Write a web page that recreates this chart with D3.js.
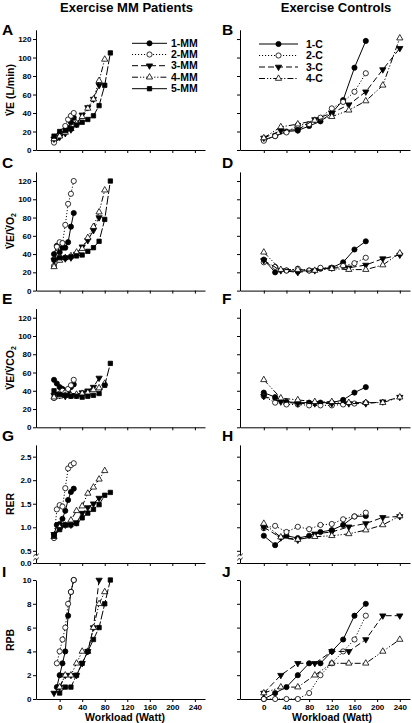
<!DOCTYPE html>
<html><head><meta charset="utf-8">
<script src="https://cdn.jsdelivr.net/npm/d3@7"></script>
<style>
body{margin:0;background:#fff;}
svg{display:block;}
text{font-family:Arial,"Liberation Sans",sans-serif;font-weight:bold;fill:#000;}
</style>
</head><body>
<svg id="chart" width="412" height="723"></svg>
<script>
// ---------------- DATA ----------------
const columnTitles = ["Exercise MM Patients", "Exercise Controls"];
const panelLetters = [["A","B"],["C","D"],["E","F"],["G","H"],["I","J"]];
const patientNames = ["1-MM","2-MM","3-MM","4-MM","5-MM"];
const controlNames = ["1-C","2-C","3-C","4-C"];
const workloadTicks = [0,40,80,120,160,200,240];
const ventTicks = [0,20,40,60,80,100,120];
const rerTicks = [0,0.5,1.0,1.5,2.0,2.5];
const rpbTicks = [0,2,4,6,8,10];

// workloads (Watt) per subject
const mm1W = [-10,-5,0,5,10,15,20,25];
const mm2W = [-10,-5,0,5,10,15,20,25];
const mm3W = [-10,0,10,20,30,40,50,60,70];
const mm4W = [-10,0,10,20,30,40,50,60,70,80];
const mm5W = [-10,0,10,20,30,40,50,60,70,80,90];
const c1W = [0,20,40,60,80,100,120,140,160,180];
const c2W = [0,20,40,60,80,100,120,140,160,180];
const c3W = [0,30,60,90,120,150,180,210,240];
const c4W = [0,30,60,90,120,150,180,210,240];

// VE (L/min)
const veMM1 = [10,13,17,19,22,24,30,35];
const veMM2 = [8,14,17,20,26,33,37,40];
const veMM3 = [12,14,18,22,28,38,46,55,70];
const veMM4 = [12,15,19,23,29,36,45,55,75,98];
const veMM5 = [15,20,21,23,27,30,33,37,48,70,105];
const veC1 = [11,15,20,21,26,31,40,54,89,118];
const veC2 = [10,15,19,27,28,35,45,52,63,83];
const veC3 = [13,21,22,33,40,49,63,87,110];
const veC4 = [13,25,28,32,36,43,53,70,121];

// VE/VO2
const vo2MM1 = [40,49,42,47,47,53,70,85];
const vo2MM2 = [27,48,53,52,72,95,106,120];
const vo2MM3 = [33,35,35,36,40,48,55,66,80];
const vo2MM4 = [26,33,36,38,42,46,58,70,86,110];
const vo2MM5 = [34,36,36,37,38,39,43,47,54,78,120];
const vo2C1 = [34,20,22,21,22,24,25,31,45,54];
const vo2C2 = [31,26,22,24,22,25,25,27,30,36];
const vo2C3 = [33,22,20,22,25,25,28,35,39];
const vo2C4 = [42,23,23,22,24,23,23,28,41];

// VE/VCO2
const co2MM1 = [52,48,44,42,40,40,44,47];
const co2MM2 = [32,35,37,40,38,42,46,52];
const co2MM3 = [35,35,34,35,35,38,40,44,54];
const co2MM4 = [33,34,35,35,36,37,38,41,43,48];
const co2MM5 = [40,36,35,34,34,33,34,35,37,46,70];
const co2C1 = [38,33,28,27,27,27,27,30,38,44];
const co2C2 = [34,27,25,25,24,24,24,25,26,27];
const co2C3 = [34,28,26,26,26,26,26,28,33];
const co2C4 = [52,32,30,28,28,27,27,27,33];

// RER
const rerMM1 = [0.84,1.05,1.07,1.18,1.35,1.58,1.75,1.82];
const rerMM2 = [0.77,1.38,1.47,1.44,1.83,2.25,2.32,2.36];
const rerMM3 = [0.85,1.0,1.05,1.05,1.1,1.3,1.42,1.5,1.62];
const rerMM4 = [0.8,1.0,1.04,1.15,1.35,1.45,1.72,1.85,2.02,2.2];
const rerMM5 = [0.82,0.95,1.05,1.05,1.08,1.2,1.3,1.38,1.48,1.68,1.74];
const rerC1 = [0.82,0.62,0.82,0.77,0.82,0.9,0.94,1.05,1.23,1.24];
const rerC2 = [0.98,1.03,0.9,1.01,0.96,1.05,1.07,1.17,1.23,1.31];
const rerC3 = [1.0,0.78,0.73,0.86,0.9,1.01,1.08,1.21,1.23];
const rerC4 = [1.08,0.79,0.74,0.8,0.82,0.86,0.94,1.05,1.24];

// RPB
const rpbMM1 = [null,1,2,3,4,7,9,10];
const rpbMM2 = [null,3,4,5,6,8,9,10];
const rpbMM3 = [0.5,1,2,2,2,3,4,6,10];
const rpbMM4 = [null,1,2,2,3,4,4,6,8,9];
const rpbMM5 = [null,0.5,1,1,2,3,4,5,6,8,10];
const rpbC1 = [0,0.5,1,2,3,3,4,5,7,8];
const rpbC2 = [0,0,0,0,0.5,2,3,4,5,7];
const rpbC3 = [0.5,2,3,3,4,4,5,7,7];
const rpbC4 = [0.5,1,1,2,3,3,3,4,5];

// ---------------- LAYOUT / STYLE ----------------
const mmW = [mm1W,mm2W,mm3W,mm4W,mm5W];
const cW = [c1W,c2W,c3W,c4W];
const rowData = [
  {mm:[veMM1,veMM2,veMM3,veMM4,veMM5], c:[veC1,veC2,veC3,veC4]},
  {mm:[vo2MM1,vo2MM2,vo2MM3,vo2MM4,vo2MM5], c:[vo2C1,vo2C2,vo2C3,vo2C4]},
  {mm:[co2MM1,co2MM2,co2MM3,co2MM4,co2MM5], c:[co2C1,co2C2,co2C3,co2C4]},
  {mm:[rerMM1,rerMM2,rerMM3,rerMM4,rerMM5], c:[rerC1,rerC2,rerC3,rerC4]},
  {mm:[rpbMM1,rpbMM2,rpbMM3,rpbMM4,rpbMM5], c:[rpbC1,rpbC2,rpbC3,rpbC4]}
];
const rowLayout = [
  {domain:[0,130], range:[150,29.8], ticks:ventTicks, fmt:d3.format("d")},
  {domain:[0,130], range:[290.6,171.9], ticks:ventTicks, fmt:d3.format("d")},
  {domain:[0,130], range:[427.3,308.6], ticks:ventTicks, fmt:d3.format("d")},
  {domain:[0,0.5,2.75], range:[563,550.8,444.9], ticks:rerTicks, fmt:d3.format(".1f"), brk:true},
  {domain:[0,10], range:[699,580], ticks:rpbTicks, fmt:d3.format("d")}
];
const colLayout = [{x0:36,x1:205},{x0:240,x1:410}];
const xDomain = [-42,258];
const dashes = [null,"1.1,1.9","6,3","6,2,1.2,1.8,1.2,2","9,2"];
const markerType = ["fcircle","ocircle","fdown","oup","fsquare"];

const svg = d3.select("#chart");

function marker(sel, type){
  const sym = {
    fcircle:d3.symbol(d3.symbolCircle,21),
    ocircle:d3.symbol(d3.symbolCircle,21),
    fdown:d3.symbol(d3.symbolTriangle,17),
    oup:d3.symbol(d3.symbolTriangle,17),
    fsquare:d3.symbol(d3.symbolSquare,19)
  }[type];
  const filled = type.startsWith("f");
  sel.attr("d", sym)
    .attr("fill", filled ? "#000" : "#fff")
    .attr("stroke","#000").attr("stroke-width", 0.8);
  return sel;
}

rowLayout.forEach((rl, ri) => {
  const y = d3.scaleLinear().domain(rl.domain).range(rl.range);
  colLayout.forEach((cl, ci) => {
    const x = d3.scaleLinear().domain(xDomain).range([cl.x0, cl.x1]);
    const g = svg.append("g");
    const xa = g.append("g").attr("transform",`translate(0,${rl.range[0]})`)
      .call(d3.axisBottom(x).tickValues(workloadTicks).tickSize(3).tickSizeOuter(0).tickPadding(2)
        .tickFormat(ri===4 ? d3.format("d") : ""));
    const ya = g.append("g").attr("transform",`translate(${cl.x0},0)`)
      .call(d3.axisLeft(y).tickValues(rl.ticks).tickSize(3).tickSizeOuter(0).tickPadding(1.5)
        .tickFormat(ci===0 ? rl.fmt : ""));
    [xa,ya].forEach(a=>{
      a.selectAll("path,line").attr("stroke","#000").attr("stroke-width",1);
      a.selectAll("text").style("font-size","8px").style("font-weight","bold")
        .style("font-family","Arial, 'Liberation Sans', sans-serif");
    });
    if (rl.brk){
      const by = 557;
      g.append("rect").attr("x",cl.x0-3).attr("y",by-2).attr("width",6).attr("height",4).attr("fill","#fff");
      [-2,2].forEach(o=>{
        g.append("path").attr("d",`M${cl.x0-2.5},${by+o+1.5} Q${cl.x0-1},${by+o-2} ${cl.x0},${by+o} T${cl.x0+2.5},${by+o-1.5}`)
          .attr("fill","none").attr("stroke","#000").attr("stroke-width",0.8);
      });
    }
    const vals = ci===0 ? rowData[ri].mm : rowData[ri].c;
    const ws = ci===0 ? mmW : cW;
    vals.forEach((vs, si) => {
      const pts = vs.map((v,i)=>({w:ws[si][i], v})).filter(p=>p.v!==null);
      const line = d3.line().x(p=>x(p.w)).y(p=>y(p.v));
      g.append("path").datum(pts).attr("d",line).attr("fill","none")
        .attr("stroke","#000").attr("stroke-width",1)
        .attr("stroke-dasharray",dashes[si]);
      const mt = markerType[si];
      g.selectAll(null).data(pts).join("path")
        .call(s=>marker(s,mt))
        .attr("transform",p=>`translate(${x(p.w)},${y(p.v)})${mt==="fdown"?" rotate(180)":""}`);
    });
    const letterY = [35,168,304,441,577][ri];
    svg.append("text").attr("x", ci===0 ? 2 : 222).attr("y", letterY)
      .style("font-size","15.5px").text(panelLetters[ri][ci]);
  });
});

function yTitle(cy, build){
  const t = svg.append("text").attr("transform",`translate(14,${cy}) rotate(-90)`)
    .attr("text-anchor","middle").style("font-size","10.5px");
  build(t);
}
yTitle(90, t=>t.text("V\u0307E (L/min)"));
yTitle(231, t=>{ t.append("tspan").text("V\u0307E/V\u0307O"); t.append("tspan").attr("dy",2).style("font-size","7px").text("2"); });
yTitle(368, t=>{ t.append("tspan").text("V\u0307E/V\u0307CO"); t.append("tspan").attr("dy",2).style("font-size","7px").text("2"); });
yTitle(504, t=>t.text("RER"));
yTitle(640, t=>t.text("RPB"));

svg.append("text").attr("x",125).attr("y",721).attr("text-anchor","middle").style("font-size","10.5px").text("Workload (Watt)");
svg.append("text").attr("x",332).attr("y",721).attr("text-anchor","middle").style("font-size","10.5px").text("Workload (Watt)");

svg.append("text").attr("x",126.5).attr("y",11.5).attr("text-anchor","middle").style("font-size","13px").text(columnTitles[0]);
svg.append("text").attr("x",336).attr("y",11.5).attr("text-anchor","middle").style("font-size","13px").text(columnTitles[1]);

function legend(names, x1, x2, tx, ys){
  names.forEach((n,i)=>{
    const yy = ys[i];
    svg.append("line").attr("x1",x1).attr("x2",x2).attr("y1",yy).attr("y2",yy)
      .attr("stroke","#000").attr("stroke-width",1).attr("stroke-dasharray", i===4 ? null : dashes[i]);
    const mt = markerType[i];
    svg.append("path").call(s=>marker(s,mt))
      .attr("transform",`translate(${(x1+x2)/2},${yy})${mt==="fdown"?" rotate(180)":""}`);
    svg.append("text").attr("x",tx).attr("y",yy).attr("dy","0.36em").style("font-size","10.5px").text(n);
  });
}
legend(patientNames, 132, 167, 171, [43.3,54.5,65.7,77.2,88.7]);
legend(controlNames, 259, 298, 306, [44,55.5,67,78.5]);
</script>
</body></html>
